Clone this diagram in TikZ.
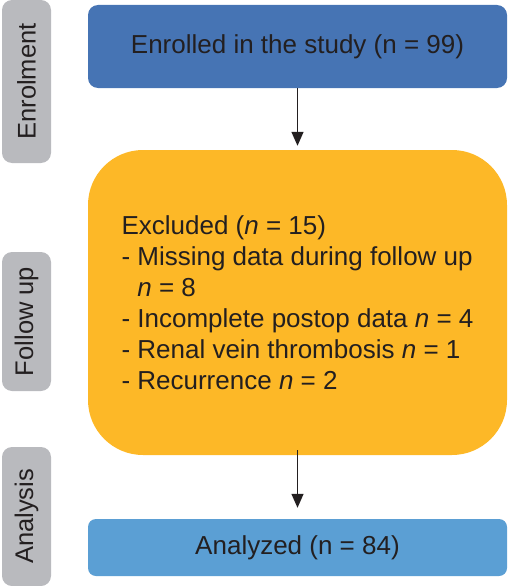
\documentclass[tikz,border=0pt]{standalone}
\usepackage{fontspec}
\setmainfont{Liberation Sans}
\usetikzlibrary{arrows.meta}
\definecolor{enrblue}{HTML}{4674B4}
\definecolor{anablue}{HTML}{5B9FD4}
\definecolor{folorange}{HTML}{FDB827}
\definecolor{labgray}{HTML}{B9BABE}
\definecolor{inkc}{HTML}{231F20}
\begin{document}
\begin{tikzpicture}[x=1pt,y=-1pt,
  every node/.style={text=inkc, font=\fontsize{26}{31}\selectfont},
  sidelabel/.style={fill=labgray, rounded corners=10pt, inner sep=0pt, minimum width=49pt},
  mainbox/.style={inner sep=0pt, minimum width=419pt},
  flowarrow/.style={draw=inkc, line width=1.4pt, -{Triangle[length=14pt,width=12pt]}}]
\useasboundingbox (0,0) rectangle (508,586);
% side labels
\node[sidelabel, minimum height=163pt] (lenr) at (26.5,81.5) {};
\node[rotate=90, font=\fontsize{25.5}{31}\selectfont] at (lenr.center) {Enrolment};
\node[sidelabel, minimum height=139pt] (lfol) at (26.5,321.5) {};
\node[rotate=90, font=\fontsize{25.5}{31}\selectfont] at (lfol.center) {Follow up};
\node[sidelabel, minimum height=139pt] (lana) at (26.5,516.5) {};
\node[rotate=90, font=\fontsize{25.5}{31}\selectfont] at (lana.center) {Analysis};
% main boxes
\node[mainbox, fill=enrblue, rounded corners=10pt, minimum height=83pt] (enr) at (297.5,46.5) {Enrolled in the study (n = 99)};
\node[mainbox, fill=folorange, rounded corners=55pt, minimum height=305pt, align=left] (fol) at (297.5,302.5)
 {Excluded (\textit{n} = 15)\\- Missing data during follow up\\\hphantom{-}\ \textit{n} = 8\\- Incomplete postop data \textit{n} = 4\\- Renal vein thrombosis \textit{n} = 1\\- Recurrence \textit{n} = 2};
\node[mainbox, fill=anablue, rounded corners=8pt, minimum height=57pt] (ana) at (297.5,547.5) {Analyzed (n = 84)};
% arrows
\draw[flowarrow, shorten >=4pt] (enr.south) -- (fol.north);
\draw[flowarrow, shorten <=-5pt, shorten >=11pt] (fol.south) -- (ana.north);
\end{tikzpicture}
\end{document}
